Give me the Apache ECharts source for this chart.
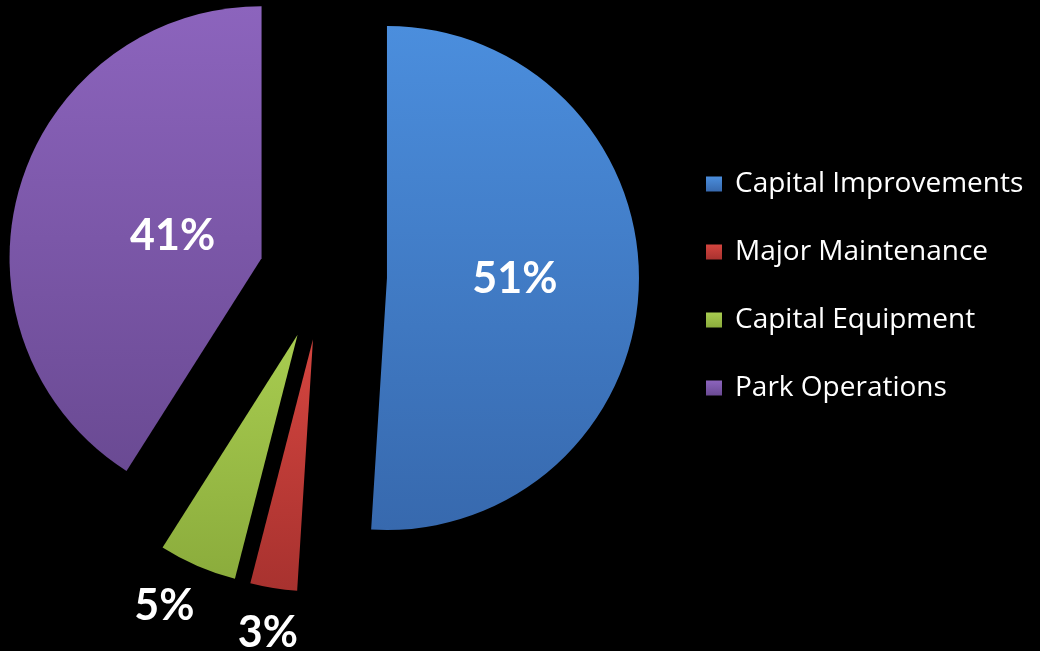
<!DOCTYPE html>
<html>
<head>
<meta charset="utf-8">
<script src="https://cdn.jsdelivr.net/npm/echarts@6/dist/echarts.min.js"></script>
<style>
html,body{margin:0;padding:0;background:#000;}
#chart{width:1040px;height:651px;}
</style>
</head>
<body>
<div id="chart"></div>
<script>
const categories = ['Capital Improvements', 'Major Maintenance', 'Capital Equipment', 'Park Operations'];
const values = [51, 3, 5, 41];

const topColors = ['#4B8EDD', '#D4453F', '#A8CC50', '#8C64BD'];
const bottomColors = ['#3769AE', '#A8322F', '#8BAC3C', '#6A4A93'];
const labelShifts = [[-1, -3], [-25, 167], [-82, 153], [35, 14]];

const data = categories.map((name, i) => ({
  name: name,
  value: values[i],
  selected: true,
  itemStyle: {
    color: {
      type: 'linear', x: 0, y: 0, x2: 0, y2: 1,
      colorStops: [{offset: 0, color: topColors[i]}, {offset: 1, color: bottomColors[i]}]
    }
  }
}));

const chart = echarts.init(document.getElementById('chart'), null, {renderer: 'canvas'});
chart.setOption({
  backgroundColor: '#000',
  animation: false,
  legend: {
    orient: 'vertical',
    left: 701,
    top: 165,
    itemWidth: 16,
    itemHeight: 15,
    itemGap: 40,
    icon: 'rect',
    selectedMode: false,
    data: categories,
    textStyle: {
      color: '#ffffff',
      fontSize: 28,
      fontFamily: 'Open Sans',
      padding: [0, 0, 0, 8]
    }
  },
  series: [{
    type: 'pie',
    center: [323, 276],
    radius: 252,
    startAngle: 90,
    clockwise: true,
    selectedMode: 'multiple',
    selectedOffset: 64,
    avoidLabelOverlap: false,
    emphasis: { disabled: true },
    label: {
      show: true,
      position: 'inside',
      formatter: '{d}%',
      color: '#ffffff',
      fontSize: 43,
      fontWeight: 'bold',
      fontFamily: 'Lato'
    },
    labelLine: { show: false },
    labelLayout: function (params) {
      const s = labelShifts[params.dataIndex];
      return { dx: s[0], dy: s[1] };
    },
    data: data
  }]
});
</script>
</body>
</html>
